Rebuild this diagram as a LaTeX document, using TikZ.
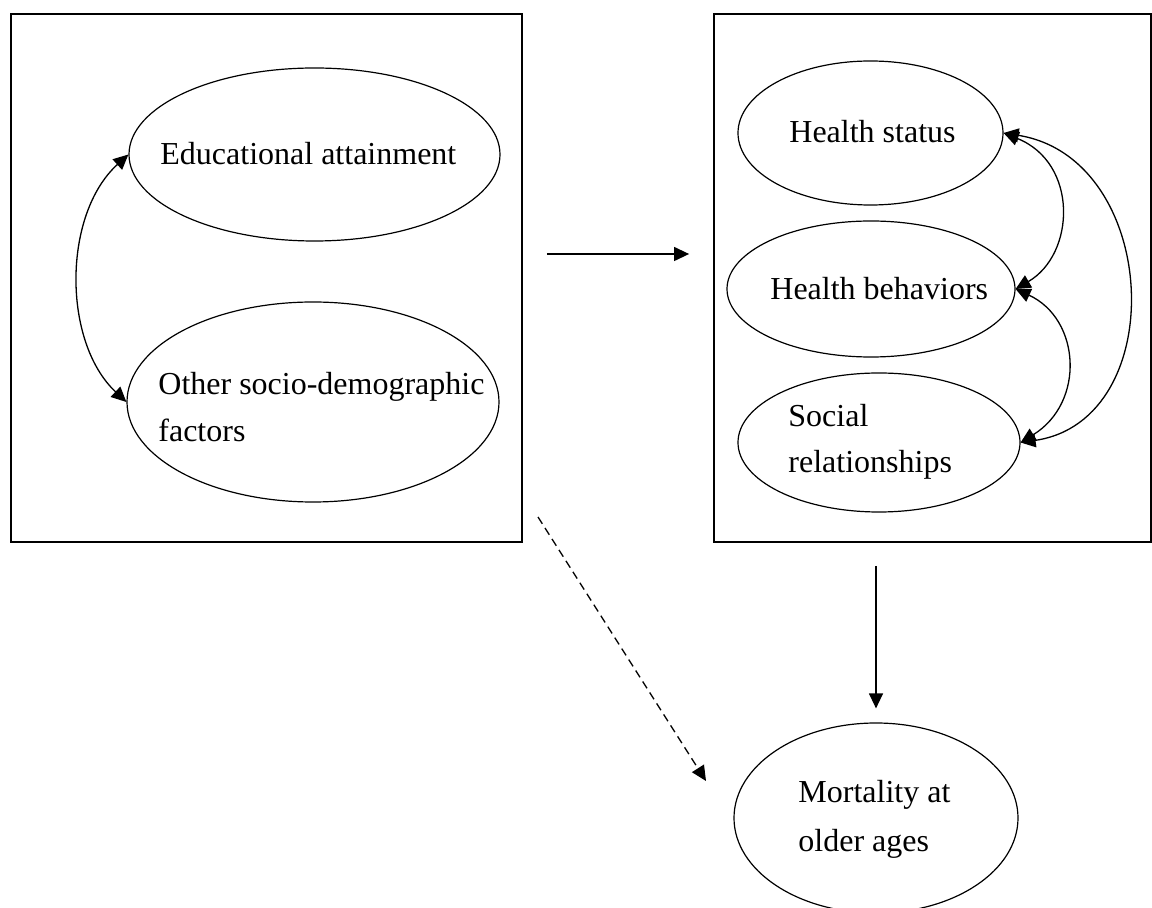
\documentclass[tikz,border=0pt]{standalone}
\usepackage{fontspec}
\setmainfont{Liberation Serif}
\usetikzlibrary{arrows.meta,shapes.geometric}
\begin{document}
\begin{tikzpicture}[x=0.5pt,y=-0.5pt,
  frame/.style={draw, line width=0.9pt, inner sep=0pt},
  ell/.style={draw, ellipse, line width=0.6pt, inner sep=0pt},
  lbl/.style={anchor=base west, inner sep=0pt, font=\fontsize{16pt}{23.5pt}\selectfont},
  arr/.style={line width=0.65pt, -{Triangle[length=7.5pt,width=7pt]}},
  biarr/.style={line width=0.65pt, {Triangle[length=7.5pt,width=7pt]}-{Triangle[length=7.5pt,width=7pt]}},
]
\useasboundingbox (0,0) rectangle (1152,908);

% boxes
\node[frame, minimum width=255.5pt, minimum height=264pt] (lbox) at (266.5,278) {};
\node[frame, minimum width=218.5pt, minimum height=264pt] (rbox) at (932.5,278) {};

% ellipses
\node[ell, minimum width=185.5pt, minimum height=86.5pt] (edu) at (314.5,154.5) {};
\node[ell, minimum width=186pt, minimum height=100pt] (oth) at (313,402) {};
\node[ell, minimum width=132.5pt, minimum height=72pt] (hs) at (870.5,133) {};
\node[ell, minimum width=144pt, minimum height=68pt] (hb) at (871,289) {};
\node[ell, minimum width=141pt, minimum height=69.5pt] (sr) at (879,442.5) {};
\node[ell, minimum width=142pt, minimum height=95pt] (mort) at (876,818) {};

% labels
\node[lbl] (tedu) at (160,165) {Educational attainment};
\node[lbl] (toth1) at (158,395) {Other socio-demographic};
\node[lbl] (toth2) at (158,442) {factors};
\node[lbl] (ths) at (789,143) {Health status};
\node[lbl] (thb) at (770,300) {Health behaviors};
\node[lbl] (tsr1) at (788,427) {Social};
\node[lbl] (tsr2) at (788,473) {relationships};
\node[lbl] (tm1) at (798,803) {Mortality at};
\node[lbl] (tm2) at (798,851) {older ages};

% correlations
\draw[biarr] (edu.west) .. controls +(-66,60) and +(-64,-60) .. (oth.west);
\draw[biarr] (hs.east) .. controls +(75,30) and +(60,-35) .. (hb.east);
\draw[biarr] (hb.east) .. controls +(65,30) and +(65,-40) .. (sr.east);
\draw[biarr] (hs.east) .. controls +(157,25) and +(151,-22) .. (sr.east);

% paths
\coordinate (hy) at (0,254);
\draw[arr, shorten <=12pt, shorten >=12pt] (lbox.east |- hy) -- (rbox.west |- hy);
\draw[arr, shorten <=11.5pt, shorten >=7pt] (rbox.south -| mort.north) -- (mort.north);
\coordinate (dA) at (538,517);
\coordinate (dB) at (706,781);
\draw[arr, dash pattern=on 4pt off 2.5pt] (dA) -- (dB);
\end{tikzpicture}
\end{document}
